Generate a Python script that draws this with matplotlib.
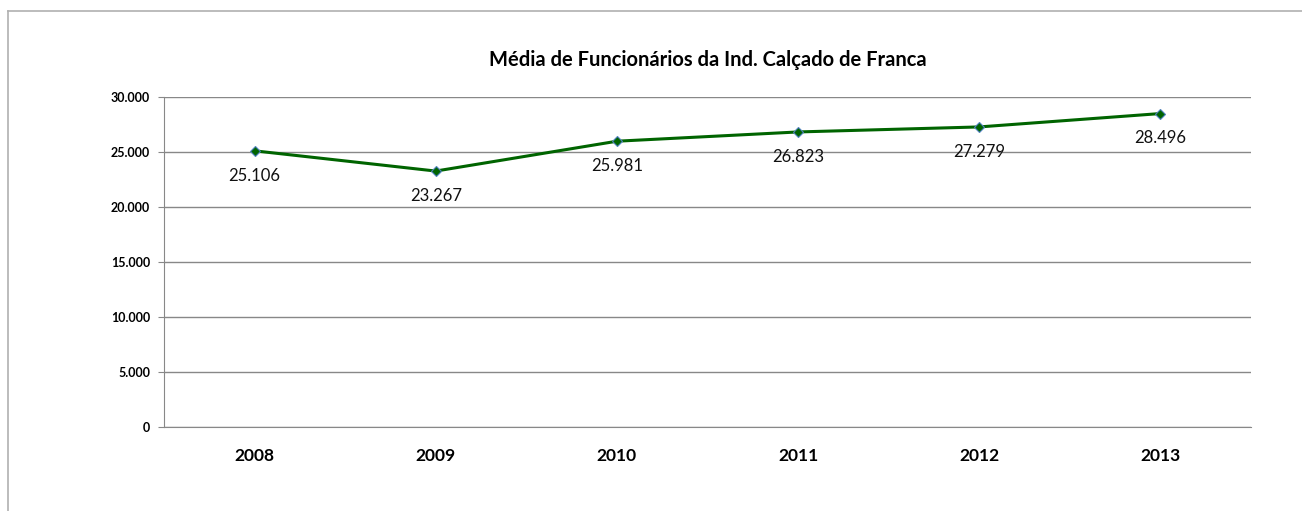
import matplotlib.pyplot as plt
from matplotlib.lines import Line2D

years = ["2008", "2009", "2010", "2011", "2012", "2013"]
funcionarios = [25106, 23267, 25981, 26823, 27279, 28496]
yticks = [0, 5000, 10000, 15000, 20000, 25000, 30000]
ytick_labels = ["0", "5.000", "10.000", "15.000", "20.000", "25.000", "30.000"]

plt.rcParams["font.family"] = ["Lato", "DejaVu Sans"]

fig = plt.figure(figsize=(13.02, 5.11), dpi=100)
ax = fig.add_axes([164 / 1302, 1 - 427 / 511, (1251 - 164) / 1302, (427 - 97) / 511])

x = list(range(len(years)))
ax.plot(x, funcionarios, color="#006400", lw=2.2, marker="D", markersize=5,
        markerfacecolor="#006400", markeredgecolor="#4f81bd", markeredgewidth=0.8, zorder=3)

for xi, v in zip(x, funcionarios):
    lbl = f"{v:,}".replace(",", ".")
    ax.annotate(lbl, (xi, v), xytext=(0, -12), textcoords="offset points",
                ha="center", va="top", fontsize=12, color="#111111")

ax.set_xlim(-0.5, len(years) - 0.5)
ax.set_ylim(0, 30000)
ax.set_yticks(yticks)
ax.set_yticklabels(ytick_labels, fontsize=9, fontweight="bold")
ax.set_xticks(x)
ax.set_xticklabels(years, fontsize=12.5, fontweight="bold")
ax.tick_params(axis="x", length=0, pad=15)
ax.tick_params(axis="y", length=4, color="#888888", pad=6)
ax.grid(axis="y", color="#888888", lw=1)
ax.set_axisbelow(True)
for s in ["top", "right"]:
    ax.spines[s].set_visible(False)
ax.spines["left"].set_color("#888888")
ax.spines["bottom"].set_color("#888888")

ax.set_title("Média de Funcionários da Ind. Calçado de Franca", fontsize=14.5,
             fontweight="bold", pad=22)

# outer chart border (left and top only are visible)
fig.add_artist(Line2D([8 / 1302, 8 / 1302], [0, 1 - 11 / 511], color="#b0b0b0", lw=1.2))
fig.add_artist(Line2D([8 / 1302, 1], [1 - 11 / 511, 1 - 11 / 511], color="#b0b0b0", lw=1.2))

fig.savefig("out.png", dpi=100)
